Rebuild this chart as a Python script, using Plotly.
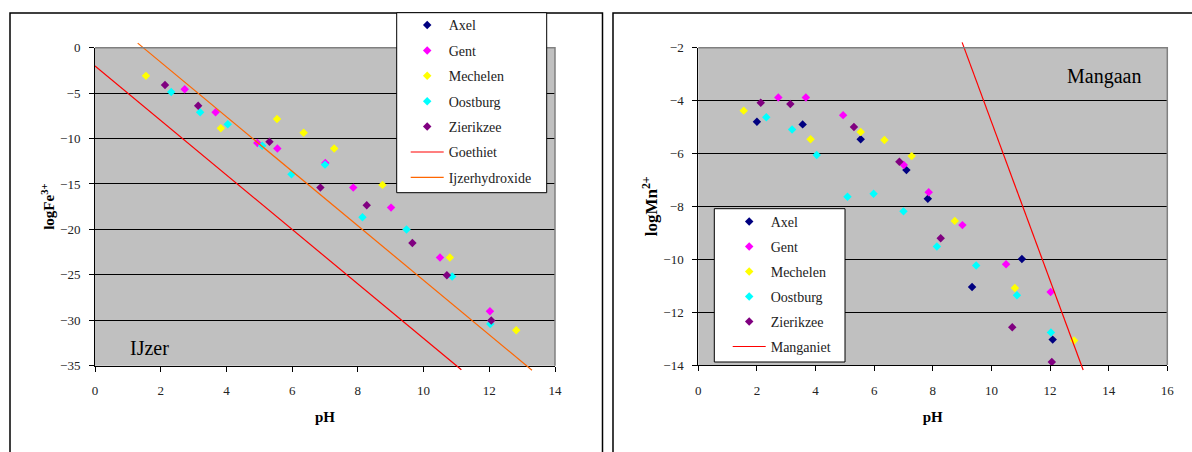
import plotly.graph_objects as go

# ---- sample data: pH and log activities per location (None = not measured) ----
axel_ph = [2.0, 3.56, 5.54, 7.1, 7.83, 9.34, 11.04, 12.09]
axel_fe = [None, None, None, None, None, None, None, None]
axel_mn = [-4.8, -4.9, -5.46, -6.63, -7.71, -11.05, -9.99, -13.04]

gent_ph = [2.73, 3.67, 4.94, 5.55, 7.01, 7.86, 9.01, 10.5, 12.02]
gent_fe = [-4.58, -7.1, -10.48, -11.1, -12.68, -15.4, -17.6, -23.1, -29.0]
gent_mn = [-3.88, -3.88, -4.55, None, -6.44, -7.47, -8.71, -10.19, -11.24]

mechelen_ph = [1.55, 3.83, 5.54, 6.35, 7.28, 8.75, 10.8, 12.82]
mechelen_fe = [-3.1, -8.87, -7.84, -9.35, -11.1, -15.1, -23.1, -31.1]
mechelen_mn = [-4.38, -5.46, -5.19, -5.49, -6.1, -8.55, -11.09, -13.07]

oostburg_ph = [2.32, 3.2, 4.04, 5.09, 5.98, 7.0, 8.14, 9.48, 10.87, 12.03]
oostburg_fe = [-4.87, -7.1, -8.43, -10.8, -13.93, -12.87, -18.66, -20.02, -25.19, -30.4]
oostburg_mn = [-4.63, -5.09, -6.06, -7.64, -7.52, -8.19, -9.52, -10.24, -11.36, -12.77]

zierikzee_ph = [2.13, 3.14, 5.31, 6.86, 8.27, 9.66, 10.71, 12.06]
zierikzee_fe = [-4.1, -6.38, -10.34, -15.4, -17.34, -21.49, -25.04, -30.03]
zierikzee_mn = [-4.08, -4.13, -5.0, -6.31, -9.21, None, -12.57, -13.89]

# ---- solubility lines (end points) ----
goethiet_ph = [0.0, 11.15]
goethiet_logfe = [-2.0, -35.45]
ijzerhydroxide_ph = [1.3, 13.3]
ijzerhydroxide_logfe = [0.5, -35.5]
manganiet_ph = [9.0, 13.13]
manganiet_logmn = [-1.8, -14.19]

# ---- axis settings ----
fe_range = [-35, 0]
fe_ticks = [0, -5, -10, -15, -20, -25, -30, -35]
mn_range = [-14, -2]
mn_ticks = [-2, -4, -6, -8, -10, -12, -14]
ph_range_fe = [0, 14]
ph_range_mn = [0, 16]

sites = [
    ("Axel", "#000080", axel_ph, axel_fe, axel_mn),
    ("Gent", "#FF00FF", gent_ph, gent_fe, gent_mn),
    ("Mechelen", "#FFFF00", mechelen_ph, mechelen_fe, mechelen_mn),
    ("Oostburg", "#00FFFF", oostburg_ph, oostburg_fe, oostburg_mn),
    ("Zierikzee", "#800080", zierikzee_ph, zierikzee_fe, zierikzee_mn),
]

W, H = 1192, 452
SERIF = "Liberation Serif, Times New Roman, serif"
MARKER_SIZE = 6.5


def px_x(p):
    return p / W


def px_y(p):
    return 1 - p / H


# plot areas in pixels (left, right, top, bottom)
FE_BOX = (95, 555, 47.7, 365.7)
MN_BOX = (698.3, 1167.3, 47.7, 365.0)
EXT = 7  # extra room so the reference lines may run slightly past the frame

fig = go.Figure()

for name, color, ph, fe, mn in sites:
    fig.add_trace(go.Scatter(
        x=ph, y=fe, mode="markers", name=name, legendgroup="fe_" + name,
        marker=dict(symbol="diamond", size=MARKER_SIZE, color=color, line=dict(width=0)),
        xaxis="x", yaxis="y", legend="legend"))

fig.add_trace(go.Scatter(
    x=goethiet_ph, y=goethiet_logfe, mode="lines", name="Goethiet",
    legendgroup="fe_goethiet", line=dict(color="#FF0000", width=1.2),
    xaxis="x3", yaxis="y3", legend="legend"))
fig.add_trace(go.Scatter(
    x=ijzerhydroxide_ph, y=ijzerhydroxide_logfe, mode="lines", name="Ijzerhydroxide",
    legendgroup="fe_ijzerhydroxide", line=dict(color="#FF6600", width=1.2),
    xaxis="x3", yaxis="y3", legend="legend"))

for name, color, ph, fe, mn in sites:
    fig.add_trace(go.Scatter(
        x=ph, y=mn, mode="markers", name=name, legendgroup="mn_" + name,
        marker=dict(symbol="diamond", size=MARKER_SIZE, color=color, line=dict(width=0)),
        xaxis="x2", yaxis="y2", legend="legend2"))

fig.add_trace(go.Scatter(
    x=manganiet_ph, y=manganiet_logmn, mode="lines", name="Manganiet",
    legendgroup="mn_manganiet", line=dict(color="#FF0000", width=1.2),
    xaxis="x4", yaxis="y4", legend="legend2"))

tickfont = dict(family=SERIF, size=13, color="#222222")
titlefont = dict(family=SERIF, size=15, color="#000000")


def ph_axis(box, rng):
    return dict(
        domain=[px_x(box[0]), px_x(box[1])], range=rng, dtick=2, tick0=0,
        showgrid=False, zeroline=False, showline=True, linecolor="#000000",
        linewidth=1, ticks="outside", ticklen=5, tickcolor="#000000",
        tickfont=tickfont, ticklabelstandoff=8, fixedrange=True, automargin=False,
        title=dict(text="<b>pH</b>", font=titlefont, standoff=14))


def log_axis(box, rng, ticks, title, standoff):
    return dict(
        domain=[px_y(box[3]), px_y(box[2])], range=rng, tickvals=ticks,
        showgrid=True, gridcolor="#000000", gridwidth=1, zeroline=False,
        showline=True, linecolor="#000000", linewidth=1, ticks="outside",
        ticklen=5, tickcolor="#000000", tickfont=tickfont, ticklabelstandoff=6,
        fixedrange=True, automargin=False,
        title=dict(text=title, font=titlefont, standoff=standoff))


def ext_axes(box, xr, yr):
    ppu = (box[3] - box[2]) / (yr[1] - yr[0])
    pad = EXT / ppu
    xa = dict(domain=[px_x(box[0]), px_x(box[1])], range=xr, visible=False,
              fixedrange=True, automargin=False)
    ya = dict(domain=[px_y(box[3] + EXT), px_y(box[2] - EXT)],
              range=[yr[0] - pad, yr[1] + pad], visible=False, fixedrange=True,
              automargin=False)
    return xa, ya


x3, y3 = ext_axes(FE_BOX, ph_range_fe, fe_range)
x4, y4 = ext_axes(MN_BOX, ph_range_mn, mn_range)
x3["anchor"] = "y3"
y3["anchor"] = "x3"
x4["anchor"] = "y4"
y4["anchor"] = "x4"

xa1 = ph_axis(FE_BOX, ph_range_fe)
xa1["anchor"] = "y"
ya1 = log_axis(FE_BOX, fe_range, fe_ticks, "<b>logFe<sup>3+</sup></b>", 1)
ya1["anchor"] = "x"
xa2 = ph_axis(MN_BOX, ph_range_mn)
xa2["anchor"] = "y2"
ya2 = log_axis(MN_BOX, mn_range, mn_ticks, "<b>logMn<sup>2+</sup></b>", 1)
ya2["anchor"] = "x2"
ya2["title"]["font"] = dict(family=SERIF, size=17, color="#000000")


def open_path(points):
    return "M " + " L ".join("{:.5f},{:.5f}".format(px_x(a), px_y(b)) for a, b in points)


shapes = []
# chart frames (they continue below the bottom edge of the page)
shapes.append(dict(type="path", xref="paper", yref="paper",
                   path=open_path([(10, 452), (10, 13), (602.5, 13), (602.5, 452)]),
                   line=dict(color="#000000", width=1.5), layer="below"))
shapes.append(dict(type="path", xref="paper", yref="paper",
                   path=open_path([(613, 452), (613, 13), (1192, 13)]),
                   line=dict(color="#000000", width=1.5), layer="below"))
# grey plot areas, grey top and right edges
for box in (FE_BOX, MN_BOX):
    shapes.append(dict(type="rect", xref="paper", yref="paper",
                       x0=px_x(box[0]), x1=px_x(box[1]),
                       y0=px_y(box[3]), y1=px_y(box[2]),
                       fillcolor="#C0C0C0", line=dict(width=0), layer="below"))
    shapes.append(dict(type="path", xref="paper", yref="paper",
                       path=open_path([(box[0], box[2]), (box[1], box[2]),
                                       (box[1], box[3])]),
                       line=dict(color="#808080", width=1.5), layer="above"))
# legend boxes
shapes.append(dict(type="rect", xref="paper", yref="paper",
                   x0=px_x(396.7), x1=px_x(546.7), y0=px_y(192.7), y1=px_y(12.7),
                   fillcolor="#FFFFFF", line=dict(color="#000000", width=1),
                   layer="above"))
shapes.append(dict(type="rect", xref="paper", yref="paper",
                   x0=px_x(714.3), x1=px_x(845), y0=px_y(362), y1=px_y(208.7),
                   fillcolor="#FFFFFF", line=dict(color="#000000", width=1),
                   layer="above"))

legend_font = dict(family=SERIF, size=14, color="#222222")

fig.update_layout(
    width=W, height=H, autosize=False,
    margin=dict(l=0, r=0, t=0, b=0, pad=0, autoexpand=False),
    paper_bgcolor="#FFFFFF", plot_bgcolor="rgba(0,0,0,0)",
    font=dict(family=SERIF),
    xaxis=xa1, yaxis=ya1, xaxis2=xa2, yaxis2=ya2,
    xaxis3=x3, yaxis3=y3, xaxis4=x4, yaxis4=y4,
    shapes=shapes,
    legend=dict(x=px_x(405.7), y=px_y(9.4), xanchor="left", yanchor="top",
                bgcolor="rgba(0,0,0,0)", borderwidth=0, font=legend_font,
                traceorder="grouped", tracegroupgap=4.2, itemwidth=33),
    legend2=dict(x=px_x(727.7), y=px_y(205.9), xanchor="left", yanchor="top",
                 bgcolor="rgba(0,0,0,0)", borderwidth=0, font=legend_font,
                 traceorder="grouped", tracegroupgap=3.8, itemwidth=33),
    annotations=[
        dict(text="IJzer", xref="paper", yref="paper", x=px_x(149), y=px_y(347.7),
             xanchor="center", yanchor="middle", showarrow=False,
             font=dict(family=SERIF, size=20, color="#000000")),
        dict(text="Mangaan", xref="paper", yref="paper", x=px_x(1104), y=px_y(76.7),
             xanchor="center", yanchor="middle", showarrow=False,
             font=dict(family=SERIF, size=20, color="#000000")),
    ],
)

fig.write_html("out.html")
